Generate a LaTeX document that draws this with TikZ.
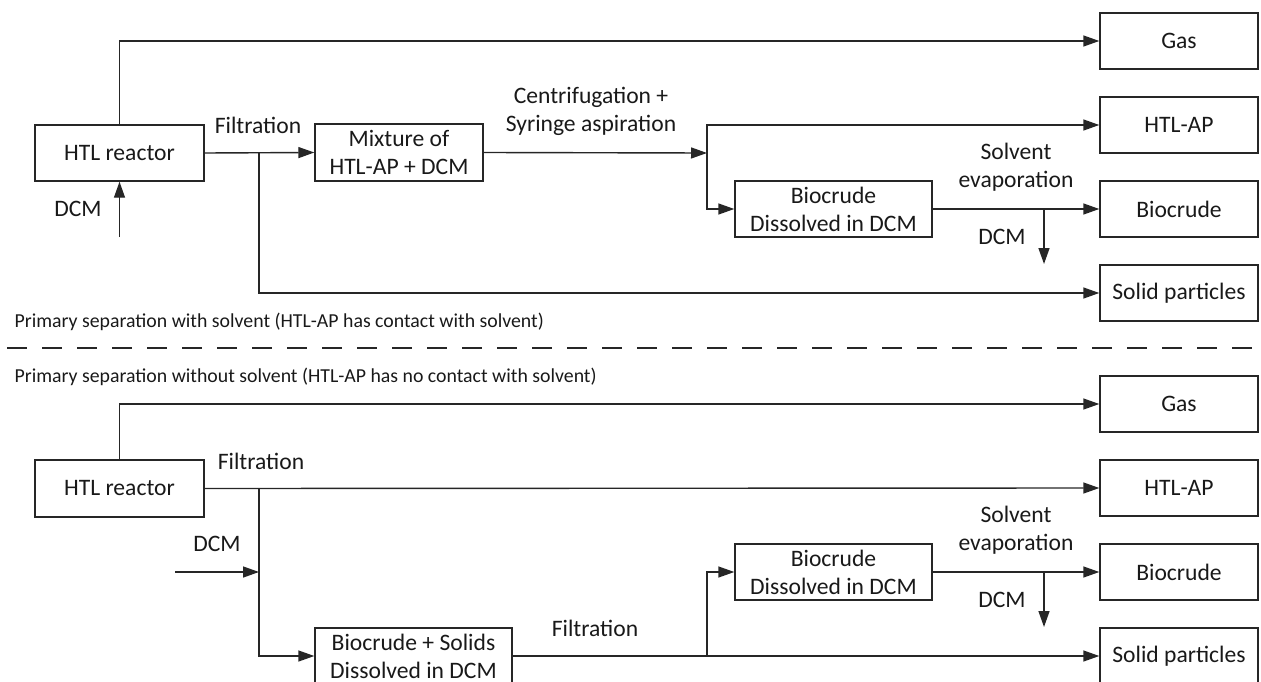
\documentclass[tikz,border=0pt]{standalone}
\usepackage{fontspec}
\setmainfont{Carlito}
\usetikzlibrary{arrows.meta}
\begin{document}
\begin{tikzpicture}[x=1pt,y=-1pt,
  line width=1.4pt, draw=black!85,
  every node/.style={font=\fontsize{23.6}{28}\selectfont, text=black!90},
  pbox/.style={draw, minimum height=56pt, inner sep=0pt, align=center},
  outbox/.style={pbox, minimum width=158pt},
  lbl/.style={align=center, inner sep=0pt},
  captext/.style={anchor=west, inner sep=0pt, font=\fontsize{19.8}{23}\selectfont},
  arr/.style={-{Triangle[length=16pt,width=11pt]}}]
\useasboundingbox (0,0) rectangle (1261,682);

% ---------- top half ----------
\node[pbox, minimum width=169pt] (r1) at (119.5,153) {HTL reactor};
\node[outbox] (gas1) at (1179,41) {Gas};
\node[outbox] (htlap1) at (1179,125) {HTL-AP};
\node[outbox] (bio1) at (1179,209) {Biocrude};
\node[outbox] (solid1) at (1179,293) {Solid particles};
\node[pbox, minimum width=168pt, minimum height=57pt] (mix1) at (399,152.5) {Mixture of\\HTL-AP + DCM};
\node[pbox, minimum width=197pt] (bd1) at (833.5,209) {Biocrude\\Dissolved in DCM};

\coordinate (j1) at (259,153);
\coordinate (j2) at (707,153);
\coordinate (d1) at (119.5,237);
\coordinate (e1) at (1044,209);
\coordinate (e1b) at (1044,264);

\draw[arr] (r1.north) |- (gas1.west);
\draw[arr] (r1.east) -- (mix1.west);
\draw[arr] (j1) |- (solid1.west);
\draw[arr] (d1) -- (r1.south);
\draw[arr] (mix1.east) -- (j2);
\draw[arr] (j2) |- (htlap1.west);
\draw[arr] (j2) |- (bd1.west);
\draw[arr] (bd1.east) -- (bio1.west);
\draw[arr] (e1) -- (e1b);

\node[lbl] (l1) at (258,125) {Filtration};
\node[lbl] (l2) at (591,111) {Centrifugation +\\Syringe aspiration};
\node[lbl] (l3) at (1016,167) {Solvent\\evaporation};
\node[lbl] (l4) at (78,209) {DCM};
\node[lbl] (l5) at (1002,237) {DCM};

\node[captext] (c1) at (14,322) {Primary separation with solvent (HTL-AP has contact with solvent)};
\coordinate (s1) at (7,348);
\coordinate (s2) at (1261,348);
\draw[dash pattern=on 20pt off 15pt] (s1) -- (s2);
\node[captext] (c2) at (14,377) {Primary separation without solvent (HTL-AP has no contact with solvent)};

% ---------- bottom half ----------
\node[pbox, minimum width=169pt, minimum height=57pt] (r2) at (119.5,488.5) {HTL reactor};
\node[outbox] (gas2) at (1179,404) {Gas};
\node[outbox] (htlap2) at (1179,488) {HTL-AP};
\node[outbox] (bio2) at (1179,572) {Biocrude};
\node[outbox] (solid2) at (1179,656) {Solid particles};
\node[pbox, minimum width=197pt] (bs2) at (413.5,656) {Biocrude + Solids\\Dissolved in DCM};
\node[pbox, minimum width=197pt] (bd2) at (833.5,572) {Biocrude\\Dissolved in DCM};

\coordinate (j3) at (259,488);
\coordinate (j4) at (707,656);
\coordinate (d2) at (175,572);
\coordinate (e2) at (1044,572);
\coordinate (e2b) at (1044,627);

\draw[arr] (r2.north) |- (gas2.west);
\draw[arr] (r2.east) -- (htlap2.west);
\draw[arr] (j3) |- (bs2.west);
\draw[arr] (d2) -- (d2 -| j3);
\draw[arr] (bs2.east) -- (solid2.west);
\draw[arr] (j4) |- (bd2.west);
\draw[arr] (bd2.east) -- (bio2.west);
\draw[arr] (e2) -- (e2b);

\node[lbl] (m1) at (261,461) {Filtration};
\node[lbl] (m2) at (217,544) {DCM};
\node[lbl] (m3) at (595,628) {Filtration};
\node[lbl] (m4) at (1016,530) {Solvent\\evaporation};
\node[lbl] (m5) at (1002,600) {DCM};
\end{tikzpicture}
\end{document}
